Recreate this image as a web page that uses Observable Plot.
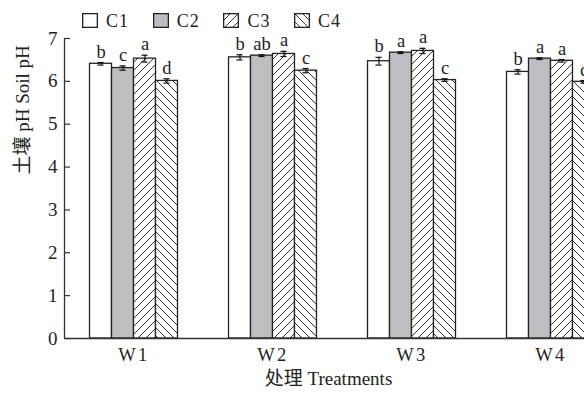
<!DOCTYPE html>
<html><head><meta charset="utf-8">
<script src="https://cdn.jsdelivr.net/npm/d3@7"></script>
<script src="https://cdn.jsdelivr.net/npm/@observablehq/plot@0.6"></script>
<style>
html,body{margin:0;padding:0;background:#fff;overflow:hidden;width:584px;height:393px;}
#legend{position:relative;height:28px;font-family:'Liberation Serif','Times New Roman','DejaVu Serif',serif,'Noto Sans CJK SC';font-size:18px;color:#222;}
.item{position:absolute;top:13px;height:15px;display:flex;align-items:center;}
.item svg{display:block;overflow:visible}
.item span{margin-left:8px;letter-spacing:1px;line-height:15px;position:relative;top:1px}
#chart svg{max-width:none !important;overflow:visible;font-family:'Liberation Serif','Times New Roman','DejaVu Serif',serif,'Noto Sans CJK SC' !important;}
g[aria-label="x-axis tick label"] text{letter-spacing:2.5px}
g[aria-label="ylabel"] text, g[aria-label="xlabel"] text{letter-spacing:1.6px}
</style></head><body>
<svg width="0" height="0" style="position:absolute">
<defs>
<pattern id="hatchF" patternUnits="userSpaceOnUse" width="8" height="8"><rect width="8" height="8" fill="white"/><path d="M-2,10 L10,-2 M-2,2 L2,-2 M6,10 L10,6" stroke="#333" stroke-width="1"/></pattern>
<pattern id="hatchB" patternUnits="userSpaceOnUse" width="8" height="8"><rect width="8" height="8" fill="white"/><path d="M-2,-2 L10,10 M-2,6 L2,10 M6,-2 L10,2" stroke="#333" stroke-width="1"/></pattern>
</defs></svg>
<div id="legend"></div>
<div id="chart"></div>
<script>
const treatments = ["W1", "W2", "W3", "W4"];
const conditions = ["C1", "C2", "C3", "C4"];
const yTicks = [0, 1, 2, 3, 4, 5, 6, 7];

const meanC1 = [6.41, 6.56, 6.47, 6.22];
const meanC2 = [6.31, 6.60, 6.67, 6.53];
const meanC3 = [6.53, 6.64, 6.71, 6.48];
const meanC4 = [6.01, 6.25, 6.03, 5.99];

const errC1 = [0.03, 0.06, 0.09, 0.05];
const errC2 = [0.05, 0.02, 0.02, 0.02];
const errC3 = [0.08, 0.06, 0.06, 0.03];
const errC4 = [0.05, 0.05, 0.03, 0.03];

const letC1 = ["b", "b", "b", "b"];
const letC2 = ["c", "ab", "a", "a"];
const letC3 = ["a", "a", "a", "a"];
const letC4 = ["d", "c", "c", "c"];

const xLabel = "处理 Treatments";
const yLabel = "土壤 pH Soil pH";

const fills = ["white", "#bdbec1", "url(#hatchF)", "url(#hatchB)"];

const means = [meanC1, meanC2, meanC3, meanC4];
const errs = [errC1, errC2, errC3, errC4];
const lets = [letC1, letC2, letC3, letC4];

const data = [];
treatments.forEach((t, ti) => conditions.forEach((c, ci) => data.push({
  t, ti, c, ci, mean: means[ci][ti], err: errs[ci][ti], letter: lets[ci][ti]
})));

const xDomain = [0.5, treatments.length + 0.5];
const groupSpan = 0.633;
const bw = groupSpan / conditions.length;
const left = d => d.ti + 1 - groupSpan / 2 + d.ci * bw;
const mid = d => left(d) + bw / 2;
const capHalf = 0.022;

// legend
const legend = document.getElementById("legend");
conditions.forEach((c, i) => {
  const it = document.createElement("div");
  it.className = "item";
  it.style.left = (82 + i * 70.7) + "px";
  it.innerHTML = `<svg width="16" height="15"><rect x="0.65" y="0.65" width="14.7" height="13.7" fill="${fills[i]}" stroke="#222" stroke-width="1.3"/></svg><span>${c}</span>`;
  legend.appendChild(it);
});

const W = 640, ML = 64, MR = 20;
const plot = Plot.plot({
  width: W,
  height: 365,
  marginLeft: ML,
  marginRight: MR,
  marginTop: 10,
  marginBottom: 55,
  style: "max-width:none;overflow:visible;background:white;color:#222;font-size:18px;",
  x: {type: "linear", domain: xDomain},
  y: {domain: [0, 7]},
  color: {type: "identity"},
  marks: [
    Plot.rect(data, {x1: left, x2: d => left(d) + bw, y1: 0, y2: "mean", fill: d => fills[d.ci], stroke: "#222", strokeWidth: 1.3}),
    Plot.ruleX(data, {x: mid, y1: d => d.mean - d.err, y2: d => d.mean + d.err, stroke: "#111", strokeWidth: 1.2}),
    Plot.ruleY(data, {x1: d => mid(d) - capHalf, x2: d => mid(d) + capHalf, y: d => d.mean + d.err, stroke: "#111", strokeWidth: 1.2}),
    Plot.ruleY(data, {x1: d => mid(d) - capHalf, x2: d => mid(d) + capHalf, y: d => d.mean - d.err, stroke: "#111", strokeWidth: 1.2}),
    Plot.text(data, {x: mid, y: d => d.mean + d.err, text: "letter", lineAnchor: "bottom", dy: -5, fontSize: 18.5, fill: "#222"}),
    // inward y ticks and axis lines
    Plot.ruleY(yTicks, {y: d => d, insetRight: W - ML - MR - 6, stroke: "#333", strokeWidth: 1.2}),
    Plot.ruleX([xDomain[0]], {y1: 0, y2: 7, stroke: "#333", strokeWidth: 1.3}),
    Plot.ruleY([0], {stroke: "#333", strokeWidth: 1.3}),
    Plot.axisY({ticks: yTicks, tickFormat: d => String(d), tickSize: 0, tickPadding: 7, label: null, fontSize: 19, fill: "#222"}),
    Plot.axisX({ticks: [1, 2, 3, 4], tickFormat: i => treatments[i - 1], tickSize: 0, tickPadding: 9, label: null, fontSize: 18.5, fill: "#222"}),
    Plot.text([xLabel], {frameAnchor: "bottom", dx: -14, dy: 46, fontSize: 19, fill: "#222", ariaLabel: "xlabel"}),
    Plot.text([yLabel], {frameAnchor: "left", rotate: -90, dx: -42, dy: -14, fontSize: 19, fill: "#222", ariaLabel: "ylabel"})
  ]
});
document.getElementById("chart").appendChild(plot);
</script>
</body></html>
